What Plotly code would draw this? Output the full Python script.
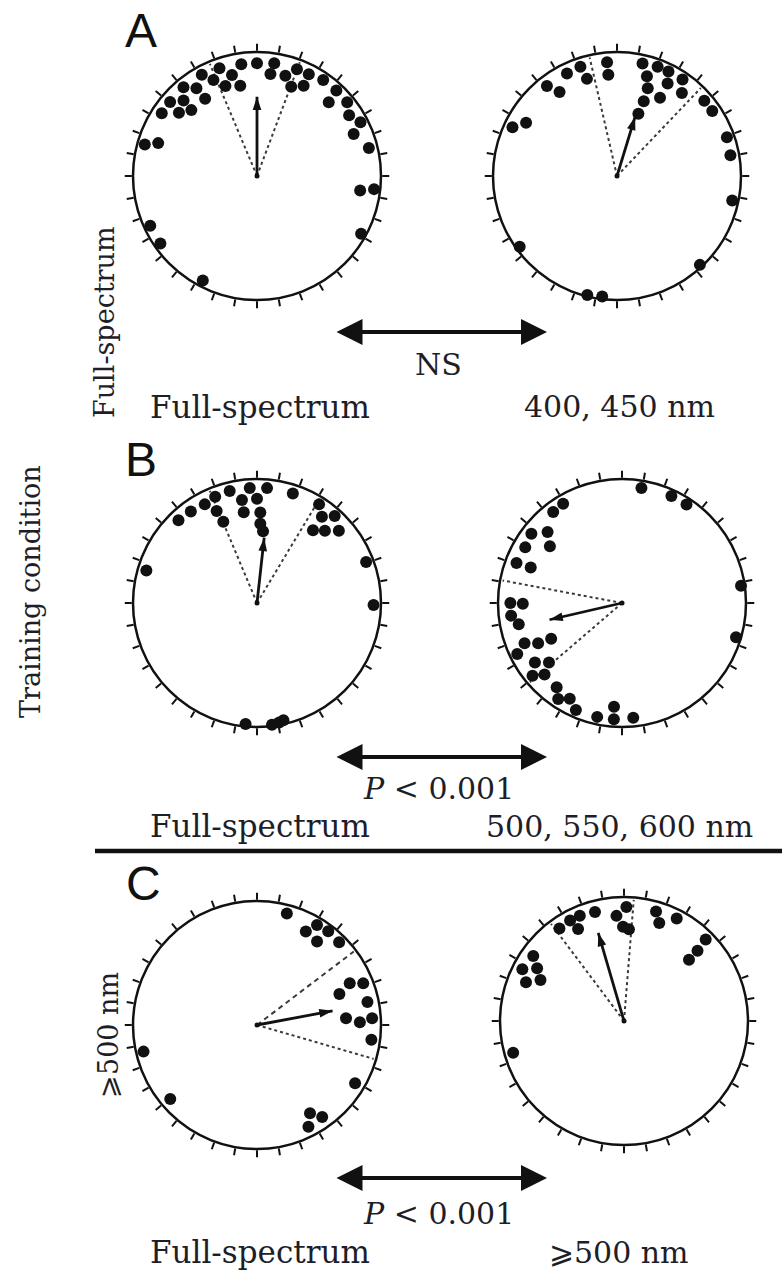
import plotly.graph_objects as go

W, H = 782, 1270

# ---------------- data: dot angles (deg, clockwise from top) and radial positions ----------------
A_full_theta = [0, 8.7, 7.5, -8, -19.2, -13.9, -10.5, -19.3, -24.4, -28.6, -34.6, -39.6, -33.9, -44.2,
                -49.6, -44.9, -51, -56.6, -74.3, -71.6, -115, -124.9, -152.6, 98, 96.4, 119, 75.9,
                66.5, 62.6, 56.6, 50.7, 44.2, 42.9, 34.6, 27.3, 21, 27, 20.5, 15.8]
A_full_r = [0.91, 0.92, 0.83, 0.91, 0.92, 0.84, 0.74, 0.77, 0.85, 0.93, 0.86, 0.93, 0.75, 0.85,
            0.92, 0.75, 0.81, 0.92, 0.94, 0.84, 0.95, 0.95, 0.95, 0.84, 0.95, 0.96, 0.93,
            0.85, 0.94, 0.89, 0.94, 0.83, 0.94, 0.94, 0.82, 0.77, 0.92, 0.92, 0.84]

A_blue_theta = [-5, -4.9, -18.5, -17.2, -26, -37.9, -34.4, -59.6, -65, -126, -166, -173, 137, 102,
                79.6, 70.6, 55.7, 49.2, 38, 34.2, 28.7, 26.2, 28.8, 20.4, 12.8, 16.7, 19.3, 19.7, 19]
A_blue_r = [0.92, 0.82, 0.93, 0.82, 0.92, 0.92, 0.82, 0.85, 0.93, 0.97, 0.99, 0.98, 0.98, 0.95,
            0.93, 0.94, 0.93, 0.93, 0.85, 0.94, 0.85, 0.94, 0.72, 0.94, 0.93, 0.84, 0.75, 0.64, 0.53]

B_full_theta = [-3.6, 5, -13.7, -8.3, 0, -8.3, 2.1, 2.4, 4.8, -21.5, -23.7, -27.9, -35.9, -43.5,
                -22.5, -73.6, -174.6, 173, 167.3, 169.5, 91, 69.4, 18.1, 32.2, 37, 41.8, 37.6, 43.2, 48.6]
B_full_r = [0.93, 0.93, 0.93, 0.84, 0.84, 0.74, 0.73, 0.64, 0.58, 0.92, 0.81, 0.90, 0.91, 0.92,
            0.71, 0.93, 0.98, 0.99, 0.97, 0.98, 0.94, 0.94, 0.93, 0.94, 0.87, 0.94, 0.74, 0.80, 0.88]

B_long_theta = [9.6, 24.8, 33.2, 81.7, 106.7, -30.7, -37.1, -52.6, -46.3, -51.8, -60.1, -69.2, -68.7,
                -90, -90.4, -96.5, -101.6, -112.4, -115.6, -116.8, -116, -124.3, -129.2, -129.1,
                -132.7, -142.2, -146.4, -151.4, -156.7, -167.7, -175.6, -176, 174.4]
B_long_r = [0.94, 0.95, 0.95, 0.97, 0.96, 0.93, 0.92, 0.92, 0.83, 0.74, 0.90, 0.91, 0.79,
            0.90, 0.80, 0.90, 0.85, 0.85, 0.75, 0.64, 0.94, 0.85, 0.76, 0.93,
            0.85, 0.86, 0.93, 0.88, 0.94, 0.94, 0.84, 0.94, 0.93]

C_full_theta = [15, 27.6, 31, 37.2, 35.7, 44.8, 65.8, 68.6, 69.4, 78.2, 85.7, 88.5, 86.7, 97.3,
                120.7, 149, 144.7, 153.2, -130.5, -103.2]
C_full_r = [0.93, 0.85, 0.94, 0.95, 0.83, 0.94, 0.82, 0.92, 0.71, 0.91, 0.72, 0.83, 0.93, 0.93,
            0.92, 0.83, 0.91, 0.92, 0.92, 0.94]

C_long_theta = [1.2, -4.1, -0.6, 3.1, -14.9, -22.8, -28.2, -26.5, -34.9, 16.3, 19.8, 27.2, 45.1,
                46.3, 46.7, -54.4, -63, -58.7, -68.4, -63.9, -106]
C_long_r = [0.92, 0.85, 0.76, 0.74, 0.91, 0.92, 0.92, 0.83, 0.91, 0.92, 0.84, 0.93, 0.93,
            0.82, 0.72, 0.90, 0.92, 0.82, 0.85, 0.75, 0.93]

# mean vector (angle, length) and confidence limits (deg)
mean_angle = [0, 17, 6.3, -103, 79.4, -16.3]
mean_len = [0.64, 0.50, 0.53, 0.60, 0.62, 0.74]
ci_low = [-22.8, -13, -22.8, -130.7, 52.8, -36.9]
ci_high = [20.6, 43.6, 31, -79.3, 106.2, 4.6]

panel_letters = ["A", "B", "C"]
row_labels = [("Full-spectrum", "400, 450 nm"),
              ("Full-spectrum", "500, 550, 600 nm"),
              ("Full-spectrum", "⩾500 nm")]
row_stats = ["NS", "<i>P</i> < 0.001", "<i>P</i> < 0.001"]

# ---------------- layout geometry (pixels) ----------------
R = 124
centers = [(257, 176), (617, 176), (257, 603), (622, 603), (257, 1025), (624, 1021)]
dots = [(A_full_theta, A_full_r), (A_blue_theta, A_blue_r), (B_full_theta, B_full_r),
        (B_long_theta, B_long_r), (C_full_theta, C_full_r), (C_long_theta, C_long_r)]
ci_dash = [("dot", "dot"), ("dot", "dot"), ("dot", "dot"), ("dot", "dot"), ("5px,4px", "dot"), ("dot", "dot")]

fig = go.Figure()
layout = dict(width=W, height=H, margin=dict(l=0, r=0, t=0, b=0),
              paper_bgcolor="white", plot_bgcolor="white", showlegend=False)

INK = "#111111"

def dom(cx, cy):
    return dict(x=[(cx - R) / W, (cx + R) / W], y=[1 - (cy + R) / H, 1 - (cy - R) / H])

for i, ((cx, cy), (th, rr)) in enumerate(zip(centers, dots)):
    pname = "polar" if i == 0 else f"polar{i + 1}"
    oname = f"polar{i + 7}"
    d = dom(cx, cy)
    layout[pname] = dict(
        domain=d, bgcolor="rgba(0,0,0,0)",
        radialaxis=dict(visible=False, range=[0, 1]),
        angularaxis=dict(rotation=90, direction="clockwise", showline=True, linewidth=2.5,
                         linecolor=INK, showgrid=False, ticks="outside", ticklen=7, tickwidth=1.6,
                         tickcolor=INK, dtick=10, showticklabels=False, layer="above traces"))
    layout[oname] = dict(
        domain=d, bgcolor="rgba(0,0,0,0)",
        radialaxis=dict(visible=False, range=[0, 1]),
        angularaxis=dict(rotation=90, direction="clockwise", showline=False, showgrid=False,
                         ticks="outside", ticklen=12, tickwidth=2.2, tickcolor=INK,
                         tickmode="array", tickvals=[0, 90, 180, 270], showticklabels=False))
    # confidence limits
    for ang, dsh in zip((ci_low[i], ci_high[i]), ci_dash[i]):
        fig.add_trace(go.Scatterpolar(r=[0, 0.98], theta=[ang, ang], mode="lines",
                                      line=dict(color="#3a3a3a", width=2, dash=dsh),
                                      subplot=pname, cliponaxis=False, hoverinfo="skip"))
    # individual dots
    fig.add_trace(go.Scatterpolar(r=rr, theta=th, mode="markers",
                                  marker=dict(size=12, color=INK),
                                  subplot=pname, cliponaxis=False))
    # mean vector
    fig.add_trace(go.Scatterpolar(r=[0, mean_len[i]], theta=[mean_angle[i], mean_angle[i]],
                                  mode="lines", line=dict(color=INK, width=2.8),
                                  subplot=pname, cliponaxis=False, hoverinfo="skip"))
    fig.add_trace(go.Scatterpolar(r=[mean_len[i]], theta=[mean_angle[i]], mode="markers",
                                  marker=dict(symbol="arrow", size=14, color=INK,
                                              angle=mean_angle[i] % 360),
                                  subplot=pname, cliponaxis=False, hoverinfo="skip"))
    fig.add_trace(go.Scatterpolar(r=[0], theta=[0], mode="markers",
                                  marker=dict(size=5, color=INK), subplot=pname,
                                  cliponaxis=False, hoverinfo="skip"))

SERIF = "DejaVu Serif"
TXT = "#1e1e28"
ann = []

def px(x):
    return x / W

def py(y):
    return 1 - y / H

def text(t, x, y, size, family=SERIF, angle=0, color=TXT):
    ann.append(dict(text=t, x=px(x), y=py(y), xref="paper", yref="paper", showarrow=False,
                    xanchor="center", yanchor="middle", textangle=angle,
                    font=dict(family=family, size=size, color=color)))

# panel letters
for letter, (x, y) in zip(panel_letters, [(141, 31), (141, 459), (143, 883)]):
    text(letter, x, y, 48, family="Liberation Sans", color=INK)

# double arrows, stats and condition labels
arrow_y = [332, 757, 1178]
stat_y = [365, 788, 1213]
lab_y = [407, 826, 1252]
for k in range(3):
    ann.append(dict(text="", x=px(547), y=py(arrow_y[k]), ax=-212, ay=0, xref="paper", yref="paper",
                    showarrow=True, arrowhead=2, startarrowhead=2, arrowside="end+start",
                    arrowsize=1.3, startarrowsize=1.3, arrowwidth=4, arrowcolor=INK,
                    standoff=0, startstandoff=0))
    text(row_stats[k], 438, stat_y[k], 30)
    text(row_labels[k][0], 260, lab_y[k], 31)
    text(row_labels[k][1], 619, lab_y[k], 30)

# vertical labels
text("Training condition", 30, 592, 27, angle=-90)
text("Full-spectrum", 104, 322, 27, angle=-90)
text("⩾500 nm", 108, 1035, 27, angle=-90)

layout["annotations"] = ann
layout["shapes"] = [dict(type="line", xref="paper", yref="paper", x0=px(95), x1=1.0,
                         y0=py(851), y1=py(851), line=dict(color=INK, width=4.5))]

fig.update_layout(**layout)
fig.write_html("out.html")
